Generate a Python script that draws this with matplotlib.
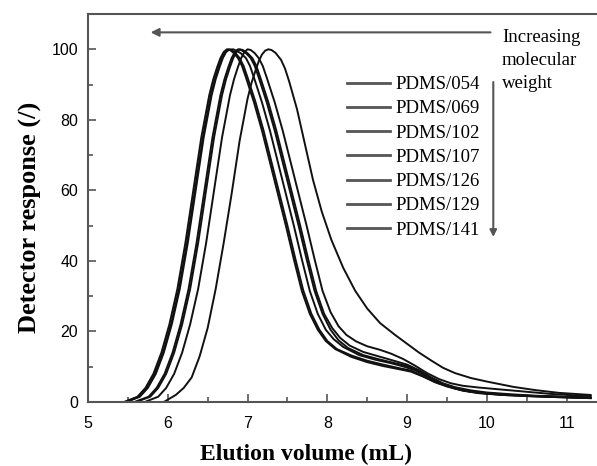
import matplotlib
matplotlib.use("Agg")
import matplotlib.pyplot as plt
from matplotlib.ticker import MultipleLocator

# donnees (volume d'elution en mL, reponse normalisee)
x_141 = [5.45, 5.62, 5.72, 5.82, 5.92, 6.02, 6.12, 6.22, 6.32, 6.42,
         6.52, 6.57, 6.62, 6.66, 6.70, 6.74, 6.78, 6.83, 6.88, 6.93,
         6.98, 7.08, 7.18, 7.28, 7.38, 7.48, 7.58, 7.68, 7.78, 7.88,
         7.98, 8.10, 8.30, 8.50, 8.70, 8.90, 9.05, 9.20, 9.35, 9.50,
         9.70, 9.90, 10.20, 10.60, 11.00, 11.30]
y_141 = [0, 1.5, 4, 8, 14, 22, 32, 45, 60, 75,
         87, 91.5, 95, 97.5, 99.2, 100, 99.8, 98.9, 97.5, 95.3,
         92, 85, 77, 68, 59, 50, 40.5, 31.5, 25, 20.5,
         17.3, 15, 12.8, 11.3, 10.2, 9.3, 8.6, 7.2, 5.6, 4.4,
         3.2, 2.5, 2.0, 1.6, 1.3, 1.1]

x_129 = [5.47, 5.64, 5.74, 5.84, 5.94, 6.04, 6.14, 6.24, 6.34, 6.44,
         6.54, 6.59, 6.64, 6.68, 6.72, 6.76, 6.80, 6.85, 6.90, 6.95,
         7.00, 7.10, 7.20, 7.30, 7.40, 7.50, 7.60, 7.70, 7.80, 7.90,
         8.00, 8.12, 8.30, 8.50, 8.70, 8.90, 9.05, 9.20, 9.35, 9.50,
         9.70, 9.90, 10.20, 10.60, 11.00, 11.30]
y_129 = [0, 1.5, 4, 8, 14, 22, 32, 45, 60, 75,
         87, 91.5, 95, 97.5, 99.2, 100, 99.8, 98.9, 97.5, 95.3,
         92, 85, 77, 68, 59, 50, 40.5, 31.5, 25, 20.5,
         17.3, 15, 13.2, 11.7, 10.6, 9.6, 8.9, 7.4, 5.7, 4.5,
         3.3, 2.6, 2.0, 1.6, 1.3, 1.1]

x_126 = [5.48, 5.65, 5.75, 5.85, 5.95, 6.05, 6.15, 6.25, 6.35, 6.45,
         6.55, 6.60, 6.65, 6.69, 6.73, 6.77, 6.82, 6.87, 6.92, 6.98,
         7.03, 7.08, 7.18, 7.28, 7.38, 7.48, 7.58, 7.68, 7.78, 7.88,
         7.98, 8.08, 8.20, 8.40, 8.60, 8.80, 8.95, 9.10, 9.25, 9.40,
         9.55, 9.70, 9.90, 10.20, 10.60, 11.00, 11.30]
y_126 = [0, 1.5, 4, 8, 14, 22, 32, 45, 60, 75,
         87, 91.5, 95, 97.5, 99.2, 99.9, 100, 99.5, 98.8, 97.5,
         95.3, 92, 85, 77, 68, 59, 50, 40.5, 31.5, 25,
         20.5, 17.8, 15.6, 13.3, 12, 11, 10.1, 9, 7.3, 5.6,
         4.4, 3.5, 2.7, 2.1, 1.7, 1.4, 1.2]

x_107 = [5.58, 5.76, 5.86, 5.96, 6.06, 6.16, 6.26, 6.36, 6.46, 6.56,
         6.66, 6.71, 6.76, 6.80, 6.84, 6.88, 6.92, 6.98, 7.04, 7.09,
         7.14, 7.24, 7.34, 7.44, 7.54, 7.64, 7.74, 7.84, 7.94, 8.04,
         8.14, 8.26, 8.45, 8.65, 8.85, 9.00, 9.15, 9.30, 9.45, 9.60,
         9.80, 10.00, 10.30, 10.60, 11.00, 11.30]
y_107 = [0, 1.5, 4, 8, 14, 22, 32, 45, 60, 75,
         87, 91.5, 95, 97.5, 99.2, 100, 99.8, 98.9, 97.5, 95.3,
         92, 85, 77, 68, 59, 50, 40.5, 31.5, 25, 20.5,
         17.5, 15.3, 13.3, 12.1, 11, 10.2, 8.8, 6.8, 5.0, 3.8,
         2.9, 2.4, 2.0, 1.7, 1.4, 1.2]

x_102 = [5.60, 5.78, 5.88, 5.98, 6.08, 6.18, 6.28, 6.38, 6.48, 6.58,
         6.68, 6.73, 6.78, 6.82, 6.86, 6.90, 6.94, 7.00, 7.06, 7.11,
         7.16, 7.26, 7.36, 7.46, 7.56, 7.66, 7.76, 7.86, 7.96, 8.06,
         8.16, 8.28, 8.45, 8.65, 8.85, 9.00, 9.15, 9.30, 9.45, 9.60,
         9.80, 10.00, 10.30, 10.60, 11.00, 11.30]
y_102 = [0, 1.5, 4, 8, 14, 22, 32, 45, 60, 75,
         87, 91.5, 95, 97.5, 99.2, 100, 99.8, 98.9, 97.5, 95.3,
         92, 85, 77, 68, 59, 50, 40.5, 31.5, 25, 21,
         18.2, 16, 14.2, 12.9, 11.6, 10.6, 9.0, 7.0, 5.3, 4.2,
         3.3, 2.7, 2.2, 1.8, 1.5, 1.3]

x_069 = [5.71, 5.88, 5.98, 6.08, 6.18, 6.28, 6.38, 6.48, 6.58, 6.68,
         6.78, 6.83, 6.88, 6.92, 6.96, 7.00, 7.04, 7.09, 7.14, 7.19,
         7.24, 7.34, 7.44, 7.54, 7.64, 7.74, 7.84, 7.94, 8.04, 8.14,
         8.24, 8.36, 8.50, 8.66, 8.80, 8.95, 9.10, 9.25, 9.40, 9.55,
         9.70, 9.90, 10.10, 10.30, 10.50, 10.80, 11.10, 11.30]
y_069 = [0, 1.5, 4, 8, 14, 22, 32, 45, 60, 75,
         87, 91.5, 95, 97.5, 99.2, 100, 99.8, 98.9, 97.5, 95.3,
         92, 85, 77, 68, 59, 50, 40.5, 31.5, 25.5, 21.5,
         19, 17.2, 15.8, 14.8, 13.7, 12.2, 10.3, 8.2, 6.5, 5.3,
         4.6, 4.1, 3.7, 3.3, 2.9, 2.3, 1.9, 1.7]

x_054 = [5.95, 6.10, 6.20, 6.30, 6.40, 6.50, 6.60, 6.70, 6.80, 6.90,
         7.00, 7.05, 7.10, 7.14, 7.18, 7.22, 7.26, 7.30, 7.35, 7.42,
         7.47, 7.52, 7.62, 7.72, 7.82, 7.93, 8.05, 8.20, 8.35, 8.50,
         8.66, 8.85, 9.00, 9.15, 9.30, 9.45, 9.60, 9.80, 10.00, 10.33,
         10.60, 10.90, 11.30]
y_054 = [0, 2, 4, 7, 13, 21, 32, 45, 59, 74,
         86, 90.5, 94, 96.6, 98.5, 99.6, 100, 99.8, 99, 97,
         94.5, 91, 83, 73, 63, 54, 46, 38, 31.5, 26.5,
         22.4, 19, 16.5, 14, 11.8, 9.7, 8.2, 6.8, 5.8, 4.3,
         3.4, 2.6, 2.0]

noms = ["PDMS/054", "PDMS/069", "PDMS/102", "PDMS/107", "PDMS/126", "PDMS/129", "PDMS/141"]
series = [(x_054, y_054), (x_069, y_069), (x_102, y_102), (x_107, y_107),
          (x_126, y_126), (x_129, y_129), (x_141, y_141)]

serif = "Liberation Serif"
sans = "Liberation Sans"
gris = "#555555"

fig = plt.figure(figsize=(5.97, 4.66), dpi=100)
ax = fig.add_axes([0.1474, 0.1373, 0.8526, 0.8326])

for (xs, ys), nom in zip(series, noms):
    ax.plot(xs, ys, color="#111111", linewidth=1.4, label=nom)

ax.set_xlim(5, 11.38)
ax.set_ylim(0, 110)

ax.xaxis.set_major_locator(MultipleLocator(1))
ax.xaxis.set_minor_locator(MultipleLocator(0.5))
ax.yaxis.set_major_locator(MultipleLocator(20))
ax.yaxis.set_minor_locator(MultipleLocator(10))
ax.tick_params(which="both", direction="in", color=gris, width=1.2,
               top=False, right=False, labelsize=11.5)
ax.tick_params(which="major", length=6)
ax.tick_params(which="minor", length=3.5)
ax.tick_params(axis="x", pad=10)
ax.tick_params(axis="y", pad=7)
for lab in ax.get_xticklabels() + ax.get_yticklabels():
    lab.set_fontfamily(sans)

for cote in ["left", "bottom", "top"]:
    ax.spines[cote].set_color(gris)
    ax.spines[cote].set_linewidth(1.5)
ax.spines["right"].set_visible(False)

ax.set_xlabel("Elution volume (mL)", fontfamily=serif, fontweight="bold", fontsize=17)
ax.xaxis.set_label_coords(0.428, -0.107)
ax.set_ylabel("Detector response (/)", fontfamily=serif, fontweight="bold", fontsize=19)
ax.yaxis.set_label_coords(-0.0905, 0.477)

leg = ax.legend(loc="upper left", bbox_to_anchor=(0.509, 0.84), frameon=False,
                prop={"family": serif, "size": 13.5}, handlelength=2.3, handletextpad=0.28,
                labelspacing=0.38, borderpad=0, borderaxespad=0)
for ligne in leg.get_lines():
    ligne.set_color(gris)
    ligne.set_linewidth(2)

# fleches
ax.annotate("", xy=(5.75, 104.8), xytext=(10.08, 104.8),
            arrowprops=dict(arrowstyle="-|>", color=gris, lw=1.5, mutation_scale=12))
ax.annotate("", xy=(10.08, 46), xytext=(10.08, 91.5),
            arrowprops=dict(arrowstyle="-|>", color=gris, lw=1.5, mutation_scale=10))
ax.text(10.19, 105.8, "Increasing\nmolecular\nweight", fontfamily=serif, fontsize=13.5,
        va="top", ha="left", linespacing=1.45)

fig.savefig("out.png", dpi=100)
